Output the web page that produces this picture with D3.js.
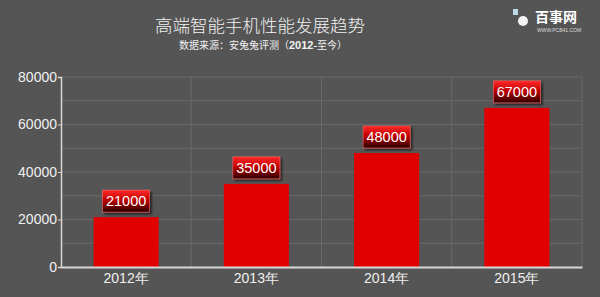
<!DOCTYPE html>
<html><head><meta charset="utf-8">
<script src="https://cdn.jsdelivr.net/npm/d3@7"></script>
<style>html,body{margin:0;padding:0;background:#555;}svg{display:block;}</style>
</head><body>
<svg id="c" width="600" height="297"></svg>
<script>
const categories = ["2012年","2013年","2014年","2015年"];
const values = [21000, 35000, 48000, 67000];
const yTicks = [0, 20000, 40000, 60000, 80000];
const gridTicks = [10000, 20000, 30000, 40000, 50000, 60000, 70000, 80000];
const titleText = "高端智能手机性能发展趋势";

const svg = d3.select("#c");
const W = 600, H = 297;
const m = {left: 61, right: 18, top: 77, bottom: 30};
const x = d3.scaleBand().domain(categories).range([m.left, W - m.right]).paddingInner(0.5).paddingOuter(0.25);
const xb = d3.scaleBand().domain(categories).range([m.left, W - m.right]);
const y = d3.scaleLinear().domain([0, 80000]).range([H - m.bottom, m.top]);

svg.append("rect").attr("width", W).attr("height", H).attr("fill", "#555555");

const defs = svg.append("defs");
const g1 = defs.append("linearGradient").attr("id","lab").attr("x1",0).attr("y1",0).attr("x2",0).attr("y2",1);
g1.append("stop").attr("offset","0%").attr("stop-color","#ff2a2a");
g1.append("stop").attr("offset","45%").attr("stop-color","#c00000");
g1.append("stop").attr("offset","100%").attr("stop-color","#2a0000");
const f = defs.append("filter").attr("id","sh").attr("x","-20%").attr("y","-20%").attr("width","150%").attr("height","160%");
f.append("feDropShadow").attr("dx",2).attr("dy",2).attr("stdDeviation",1).attr("flood-color","#000").attr("flood-opacity",0.6);

// gridlines
svg.append("g").selectAll("line").data(gridTicks).join("line")
  .attr("x1", m.left).attr("x2", W - m.right)
  .attr("y1", d => y(d)).attr("y2", d => y(d))
  .attr("stroke", "#6a6a6a").attr("stroke-width", 1);
svg.append("g").selectAll("line").data(categories.slice(1).concat(["end"])).join("line")
  .attr("x1", d => d === "end" ? W - m.right : xb(d)).attr("x2", d => d === "end" ? W - m.right : xb(d))
  .attr("y1", y(80000)).attr("y2", y(0))
  .attr("stroke", "#6a6a6a").attr("stroke-width", 1);

// y axis
const ya = svg.append("g").attr("transform", `translate(${m.left},0)`)
  .call(d3.axisLeft(y).tickValues(yTicks).tickSize(3).tickFormat(d3.format("d")));
ya.select(".domain").attr("stroke", "#d8d8d8").attr("stroke-width", 1.5);
ya.selectAll(".tick line").attr("stroke", "#d8d8d8");
ya.selectAll("text").attr("fill", "#f0f0f0").attr("font-family", "Liberation Sans, Arial, sans-serif").attr("font-size", 14).attr("x", -4);

// bars
svg.append("g").selectAll("rect").data(values).join("rect")
  .attr("x", (d,i) => x(categories[i])).attr("width", x.bandwidth())
  .attr("y", d => y(d)).attr("height", d => y(0) - y(d))
  .attr("fill", "#e00000");

// x axis
const xa = svg.append("g").attr("transform", `translate(0,${y(0)})`)
  .call(d3.axisBottom(xb).tickSize(0).tickPadding(6));
xa.select(".domain").attr("stroke", "#d8d8d8").attr("stroke-width", 2);
xa.selectAll("text").attr("fill", "#f0f0f0").attr("font-family", "Liberation Sans, Arial, sans-serif").attr("font-size", 14);

// labels
const lw = 47, lh = 22;
const lg = svg.append("g").selectAll("g").data(values).join("g")
  .attr("transform", (d,i) => `translate(${x(categories[i]) + x.bandwidth()/2},${y(d) - 5 - lh})`);
lg.append("rect").attr("x", -lw/2).attr("y", 0).attr("width", lw).attr("height", lh)
  .attr("fill", "url(#lab)").attr("stroke", "#ff6a6a").attr("stroke-width", 0.6).attr("filter", "url(#sh)");
lg.append("text").attr("x", 0).attr("y", lh/2 + 5).attr("text-anchor", "middle")
  .attr("fill", "#ffffff").attr("font-family", "Liberation Sans, Arial, sans-serif").attr("font-size", 14.5)
  .text(d => d);

// title
svg.append("text").attr("x", 260).attr("y", 32).attr("text-anchor", "middle")
  .attr("fill", "#f2f2f2").attr("font-family", "Noto Sans CJK SC, sans-serif").attr("font-weight", 300).attr("font-size", 17.5)
  .text(titleText);
const sub = svg.append("text").attr("x", 263).attr("y", 49).attr("text-anchor", "middle")
  .attr("fill", "#f2f2f2").attr("font-family", "Noto Sans CJK SC, sans-serif").attr("font-size", 10);
sub.append("tspan").text("数据来源：安兔兔评测（");
sub.append("tspan").attr("font-weight", "bold").attr("font-family", "Liberation Sans, Arial, sans-serif").attr("font-size", 11).text("2012");
sub.append("tspan").attr("font-weight", "bold").text("-");
sub.append("tspan").text("至今）");

// logo
svg.append("circle").attr("cx", 523).attr("cy", 21).attr("r", 5).attr("fill", "#f4f4f4");
svg.append("rect").attr("x", 513).attr("y", 9).attr("width", 5).attr("height", 6).attr("fill", "#bcd8e6");
svg.append("text").attr("x", 535).attr("y", 22).attr("fill", "#ffffff")
  .attr("font-family", "Noto Sans CJK SC, sans-serif").attr("font-weight", "bold").attr("font-size", 14)
  .text("百事网");
svg.append("text").attr("x", 537).attr("y", 32).attr("fill", "#dddddd")
  .attr("font-family", "Liberation Sans, Arial, sans-serif").attr("font-size", 5)
  .text("WWW.PCB41.COM");
</script>
</body></html>
